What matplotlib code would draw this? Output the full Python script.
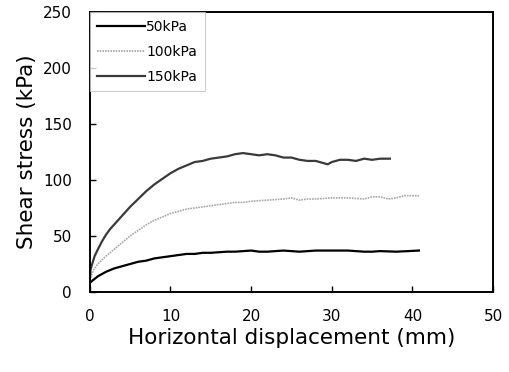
import matplotlib
matplotlib.use("Agg")
import matplotlib.pyplot as plt

x150 = [0, 0.1, 0.3, 0.6, 1.0, 1.5, 2.0, 2.5, 3.0, 3.5, 4.0, 5.0, 6.0, 7.0, 8.0, 9.0, 10.0, 11.0, 12.0,
        13.0, 14.0, 15.0, 16.0, 17.0, 18.0, 19.0, 20.0, 21.0, 22.0, 23.0, 24.0, 25.0, 26.0, 27.0, 28.0,
        29.0, 29.5, 30.0, 31.0, 32.0, 33.0, 34.0, 35.0, 36.0, 37.2]
y150 = [10, 20, 25, 32, 38, 45, 51, 56, 60, 64, 68, 76, 83, 90, 96, 101, 106, 110, 113,
        116, 117, 119, 120, 121, 123, 124, 123, 122, 123, 122, 120, 120, 118, 117, 117,
        115, 114, 116, 118, 118, 117, 119, 118, 119, 119]

x100 = [0, 0.2, 0.5, 1, 2, 3, 4, 5, 6, 7, 8, 9, 10, 11, 12, 13, 14, 15, 16, 17, 18, 19, 20, 22, 24,
        25, 26, 27, 28, 30, 32, 34, 35, 36, 37, 38, 39, 40.8]
y100 = [8, 15, 20, 25, 32, 38, 44, 50, 55, 60, 64, 67, 70, 72, 74, 75, 76, 77, 78, 79, 80, 80, 81, 82, 83,
        84, 82, 83, 83, 84, 84, 83, 85, 85, 83, 84, 86, 86]

x50 = [0, 0.3, 1, 2, 3, 4, 5, 6, 7, 8, 9, 10, 11, 12, 13, 14, 15, 16, 17, 18, 20, 21, 22, 24, 26, 28,
       30, 32, 33, 34, 35, 36, 38, 40.8]
y50 = [8, 10, 14, 18, 21, 23, 25, 27, 28, 30, 31, 32, 33, 34, 34, 35, 35, 35.5, 36, 36, 37, 36, 36, 37,
       36, 37, 37, 37, 36.5, 36, 36, 36.5, 36, 37]

labels = ["50kPa", "100kPa", "150kPa"]

fig = plt.figure(figsize=(5.10, 3.72), dpi=100)
ax = fig.add_axes([0.176, 0.215, 0.791, 0.753])

ax.plot(x50, y50, color="black", lw=1.6, label=labels[0])
ax.plot(x100, y100, color="#a8a8a8", lw=1.2, ls=(0, (1, 0.6)), label=labels[1])
ax.plot(x150, y150, color="#3a3a3a", lw=1.6, label=labels[2])

ax.set_xlim(0, 50)
ax.set_ylim(0, 250)
ax.set_xticks([0, 10, 20, 30, 40, 50])
ax.set_yticks([0, 50, 100, 150, 200, 250])
ax.tick_params(direction="in", length=4, width=1, labelsize=11)
ax.tick_params(axis="y", pad=13)
ax.tick_params(axis="x", pad=12)
for s in ax.spines.values():
    s.set_linewidth(1.4)

ax.set_xlabel("Horizontal displacement (mm)", fontsize=15.5, labelpad=3)
ax.set_ylabel("Shear stress (kPa)", fontsize=15.5, labelpad=4)

leg = ax.legend(loc="upper left", fontsize=10, handlelength=3.4, handletextpad=0.1,
                frameon=True, fancybox=False, borderaxespad=0.0, borderpad=0.55,
                labelspacing=0.8)
leg.get_frame().set_edgecolor("#c0c0c0")
leg.get_frame().set_linewidth(0.8)

fig.savefig("out.png", dpi=100)
